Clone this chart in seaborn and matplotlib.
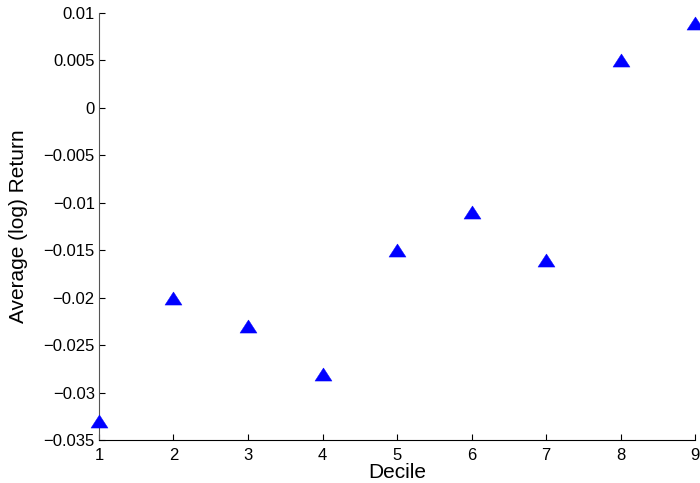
import matplotlib
matplotlib.use("Agg")
import matplotlib.pyplot as plt
import numpy as np
import pandas as pd
import seaborn as sns
from matplotlib.ticker import FuncFormatter

deciles = [1, 2, 3, 4, 5, 6, 7, 8, 9]
avg_log_return = [-0.033, -0.020, -0.023, -0.028, -0.015, -0.011, -0.016, 0.005, 0.009]
y_ticks = [-0.035, -0.03, -0.025, -0.02, -0.015, -0.01, -0.005, 0, 0.005, 0.01]

sns.set_theme(style="ticks")
plt.rcParams["font.family"] = ["Liberation Sans", "DejaVu Sans"]
plt.rcParams["text.color"] = "black"
plt.rcParams["axes.labelcolor"] = "black"

df = pd.DataFrame({"decile": deciles, "ret": avg_log_return})

# slightly wide triangle, like the original marker
tri = [(0, 0.77), (-1, -0.77), (1, -0.77), (0, 0.77)]

fig = plt.figure(figsize=(7, 4.83), dpi=100)
ax = fig.add_axes([0.1414, 0.089, 0.8516, 0.884])
sns.scatterplot(data=df, x="decile", y="ret", marker=tri, s=150,
                color="#0000ff", edgecolor="#0000ff", linewidth=0.3,
                clip_on=False, zorder=3, ax=ax)

ax.set_xlim(1, 9)
ax.set_ylim(-0.035, 0.01)
ax.set_xticks(deciles)
ax.set_yticks(y_ticks)
ax.yaxis.set_major_formatter(FuncFormatter(lambda v, p: f"{v:g}".replace("-", "\u2212")))
ax.tick_params(direction="in", length=4, width=0.8, labelsize=12, colors="black", pad=3)
ax.tick_params(axis="x", pad=6)
for side in ("top", "right"):
    ax.spines[side].set_visible(False)
ax.spines["left"].set_color("#555555")
ax.spines["bottom"].set_color("black")
ax.spines["left"].set_linewidth(0.8)
ax.spines["bottom"].set_linewidth(0.8)

ax.set_xlabel("Decile", fontsize=15, labelpad=0)
ax.set_ylabel("Average (log) Return", fontsize=15, labelpad=11)

fig.savefig("out.png", dpi=100)
